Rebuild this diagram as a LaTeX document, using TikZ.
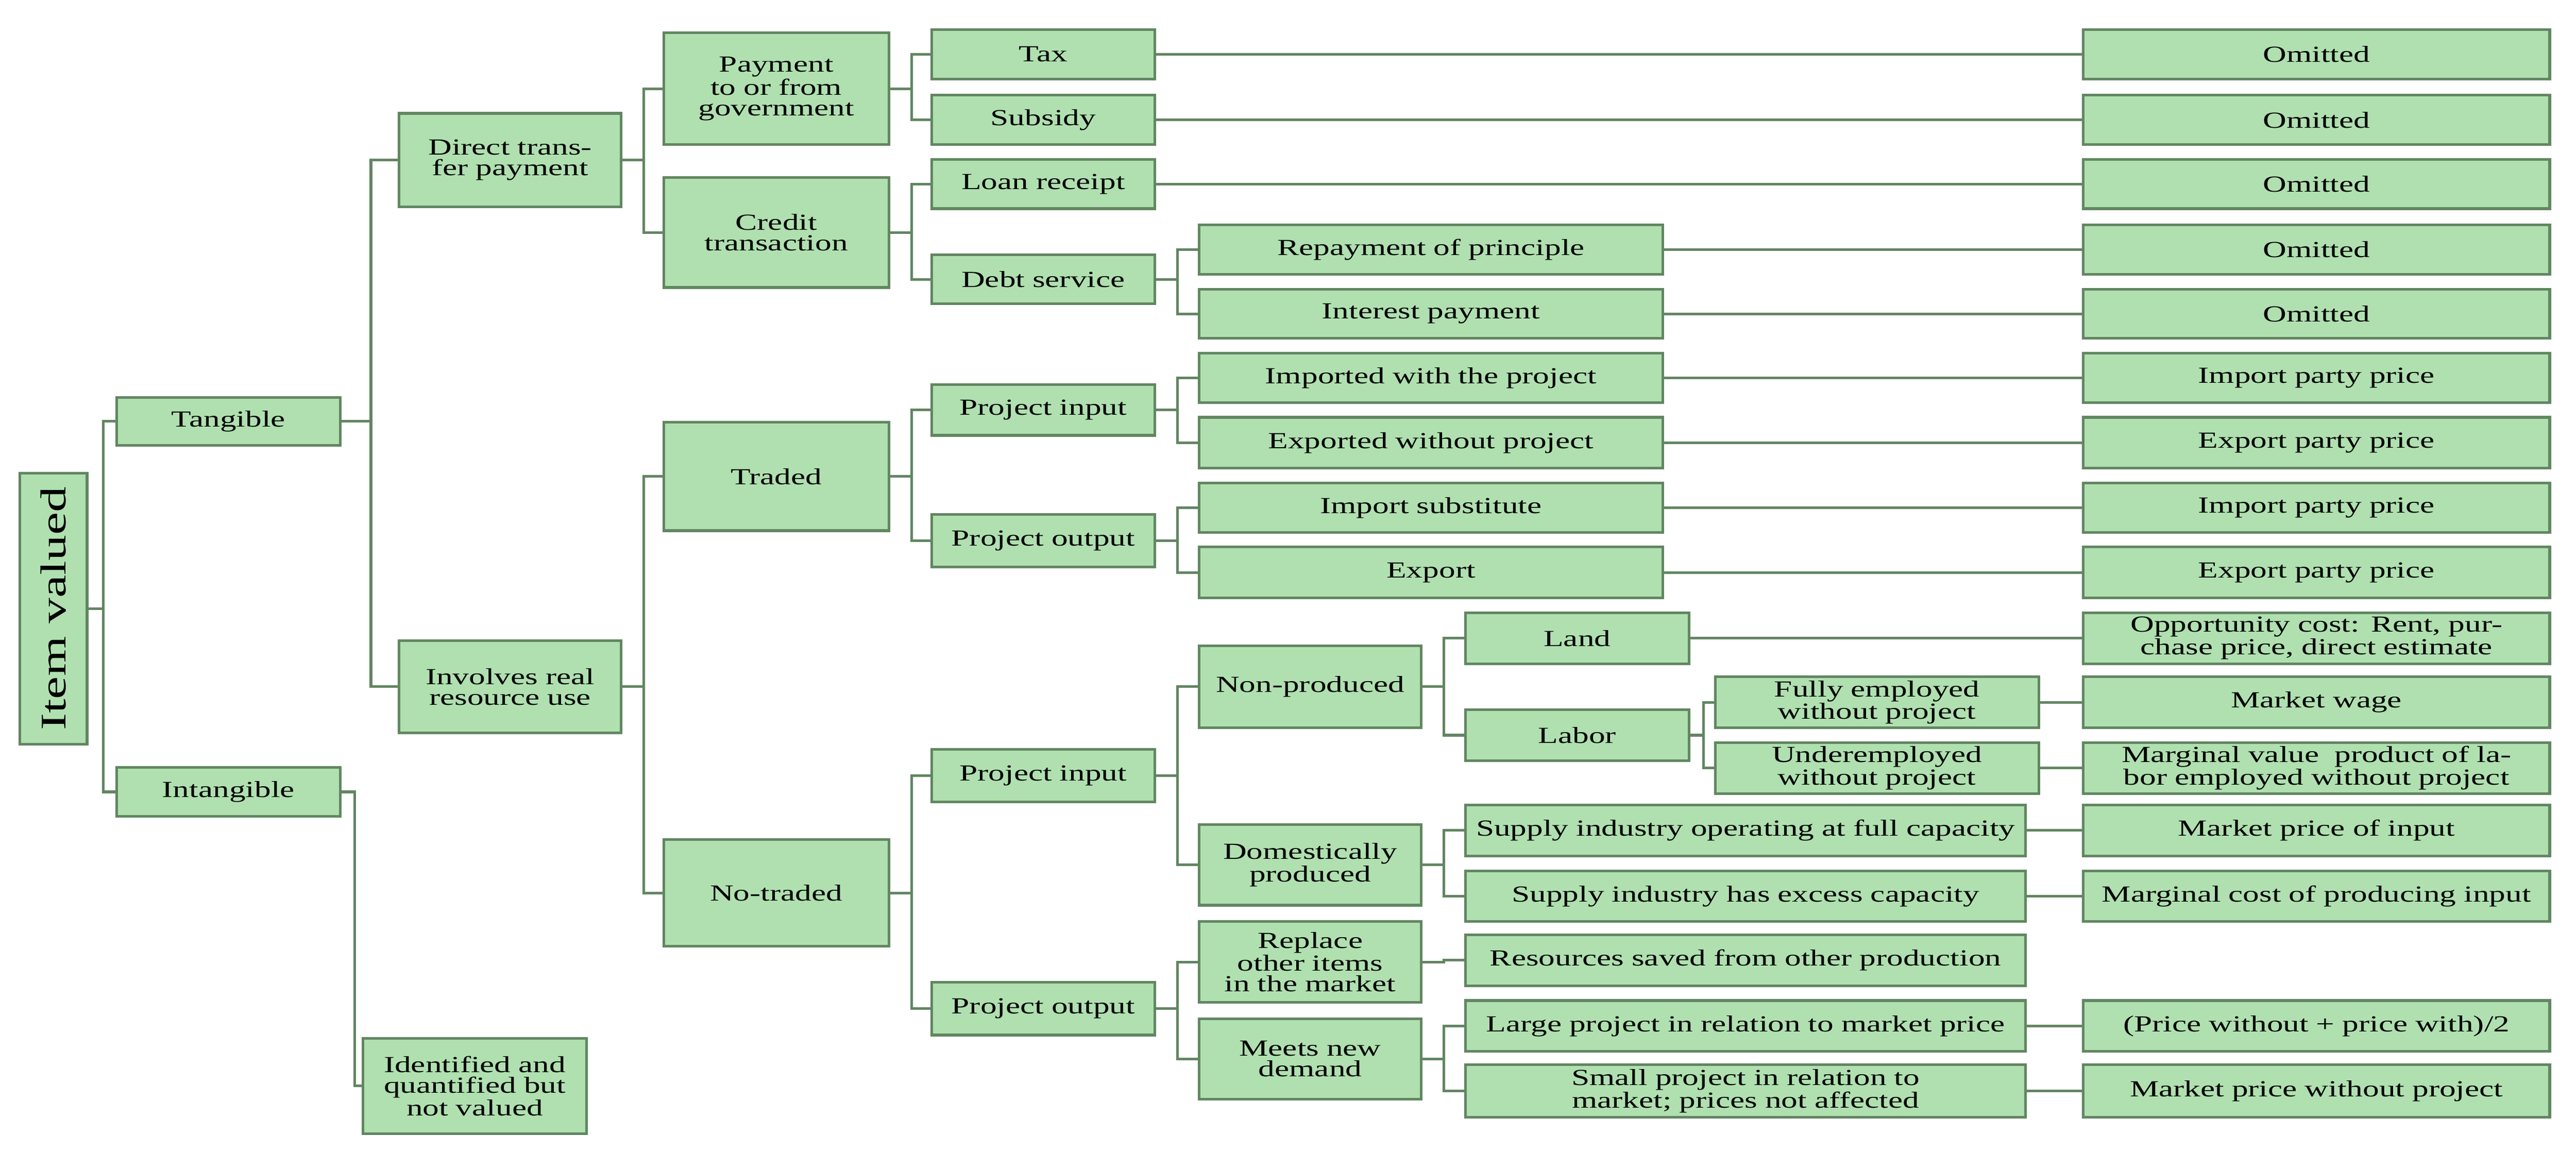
\documentclass[tikz,border=0pt]{standalone}
\usepackage{fontspec}
\setmainfont{Liberation Serif}[FakeStretch=1.42]
\usetikzlibrary{calc}
\definecolor{bfill}{RGB}{176,224,176}
\definecolor{bdraw}{RGB}{98,134,98}
\tikzset{
 bx/.style={draw=bdraw,fill=bfill,line width=1.6pt,rectangle,align=center,inner sep=0pt,
   font=\fontsize{14}{12.5}\selectfont},
 ln/.style={draw=bdraw,line width=1.6pt}
}
\newcommand{\bx}[6]{\node[bx,minimum width={(#4-#2)*1pt},minimum height={(#5-#3)*1pt},text width={(#4-#2-4)*1pt}] (#1) at ({(#2+#4)/2},{(#3+#5)/2}) {#6};}
\newcommand{\elb}[3]{\draw[ln] (#1.east) -- ([xshift=#3pt]#1.east) |- (#2.west);}
\newcommand{\str}[2]{\draw[ln] (#1.east) -- (#2.west|-#1.east);}
\begin{document}
\begin{tikzpicture}[x=1pt,y=-1pt]
\useasboundingbox (0,0) rectangle (1568,701);
\node[bx,minimum width=41pt,minimum height=165pt] (iv) at (32.5,370.5) {};
\node[rotate=90,font=\fontsize{22}{22}\selectfont] at (iv.center) {Item valued};
\bx{tan}{71}{242}{207}{271}{Tangible}
\bx{int}{71}{467}{207}{497}{Intangible}
\bx{dtp}{243}{69}{378}{126}{Direct transfer payment}
\bx{irr}{243}{390}{378}{446}{Involves real resource use}
\bx{iqv}{221}{632}{357}{690}{Identified and quantified but not valued}
\bx{pay}{404}{20}{541}{88}{Payment to or from government}
\bx{cre}{404}{108}{541}{175}{Credit transaction}
\bx{trd}{404}{257}{541}{323}{Traded}
\bx{ntr}{404}{511}{541}{576}{No-traded}
\bx{tax}{567}{18}{703}{48}{Tax}
\bx{sub}{567}{58}{703}{88}{Subsidy}
\bx{lon}{567}{97}{703}{127}{Loan receipt}
\bx{dbt}{567}{155}{703}{185}{Debt service}
\bx{tpi}{567}{234}{703}{265}{Project input}
\bx{tpo}{567}{313}{703}{345}{Project output}
\bx{npi}{567}{456}{703}{488}{Project input}
\bx{npo}{567}{598}{703}{630}{Project output}
\bx{rep}{730}{137}{1012}{167}{Repayment of principle}
\bx{inp}{730}{176}{1012}{206}{Interest payment}
\bx{imp}{730}{215}{1012}{245}{Imported with the project}
\bx{exw}{730}{254}{1012}{285}{Exported without project}
\bx{ims}{730}{294}{1012}{324}{Import substitute}
\bx{exp}{730}{333}{1012}{364}{Export}
\bx{nop}{730}{393}{865}{443}{Non-produced}
\bx{dom}{730}{502}{865}{551}{Domestically produced}
\bx{rpl}{730}{561}{865}{610}{Replace other items in the market}
\bx{mnd}{730}{620}{865}{669}{Meets new demand}
\bx{lnd}{892}{373}{1028}{404}{Land}
\bx{lab}{892}{432}{1028}{463}{Labor}
\bx{fem}{1044}{412}{1241}{443}{Fully employed without project}
\bx{und}{1044}{452}{1241}{483}{Underemployed without project}
\bx{sfc}{892}{490}{1233}{521}{Supply industry operating at full capacity}
\bx{sec}{892}{530}{1233}{561}{Supply industry has excess capacity}
\bx{res}{892}{569}{1233}{600}{Resources saved from other production}
\bx{lrg}{892}{609}{1233}{640}{Large project in relation to market price}
\bx{sml}{892}{648}{1233}{680}{Small project in relation to market; prices not affected}
\bx{r1}{1268}{18}{1552}{48}{Omitted}
\bx{r2}{1268}{58}{1552}{88}{Omitted}
\bx{r3}{1268}{97}{1552}{127}{Omitted}
\bx{r4}{1268}{137}{1552}{167}{Omitted}
\bx{r5}{1268}{176}{1552}{206}{Omitted}
\bx{r6}{1268}{215}{1552}{245}{Import party price}
\bx{r7}{1268}{254}{1552}{285}{Export party price}
\bx{r8}{1268}{294}{1552}{324}{Import party price}
\bx{r9}{1268}{333}{1552}{364}{Export party price}
\bx{r10}{1268}{373}{1552}{404}{Opportunity cost: Rent, purchase price, direct estimate}
\bx{r11}{1268}{412}{1552}{443}{Market wage}
\bx{r12}{1268}{452}{1552}{483}{Marginal value \ product of labor employed without project}
\bx{r13}{1268}{490}{1552}{521}{Market price of input}
\bx{r14}{1268}{530}{1552}{561}{Marginal cost of producing input}
\bx{r15}{1268}{609}{1552}{640}{(Price without + price with)/2}
\bx{r16}{1268}{648}{1552}{680}{Market price without project}
% tree
\elb{iv}{tan}{9}\elb{iv}{int}{9}
\elb{tan}{dtp}{18}\elb{tan}{irr}{18}
\elb{int}{iqv}{8}
\elb{dtp}{pay}{13}\elb{dtp}{cre}{13}
\elb{irr}{trd}{13}\elb{irr}{ntr}{13}
\elb{pay}{tax}{13}\elb{pay}{sub}{13}
\elb{cre}{lon}{13}\elb{cre}{dbt}{13}
\elb{trd}{tpi}{13}\elb{trd}{tpo}{13}
\elb{ntr}{npi}{13}\elb{ntr}{npo}{13}
\elb{dbt}{rep}{13}\elb{dbt}{inp}{13}
\elb{tpi}{imp}{13}\elb{tpi}{exw}{13}
\elb{tpo}{ims}{13}\elb{tpo}{exp}{13}
\elb{npi}{nop}{13}\elb{npi}{dom}{13}
\elb{npo}{rpl}{13}\elb{npo}{mnd}{13}
\elb{nop}{lnd}{13}\elb{nop}{lab}{13}
\elb{lab}{fem}{8}\elb{lab}{und}{8}
\elb{dom}{sfc}{13}\elb{dom}{sec}{13}
\elb{rpl}{res}{13}
\elb{mnd}{lrg}{13}\elb{mnd}{sml}{13}
\str{tax}{r1}\str{sub}{r2}\str{lon}{r3}\str{rep}{r4}\str{inp}{r5}
\str{imp}{r6}\str{exw}{r7}\str{ims}{r8}\str{exp}{r9}\str{lnd}{r10}
\str{fem}{r11}\str{und}{r12}\str{sfc}{r13}\str{sec}{r14}\str{lrg}{r15}\str{sml}{r16}
\end{tikzpicture}
\end{document}
